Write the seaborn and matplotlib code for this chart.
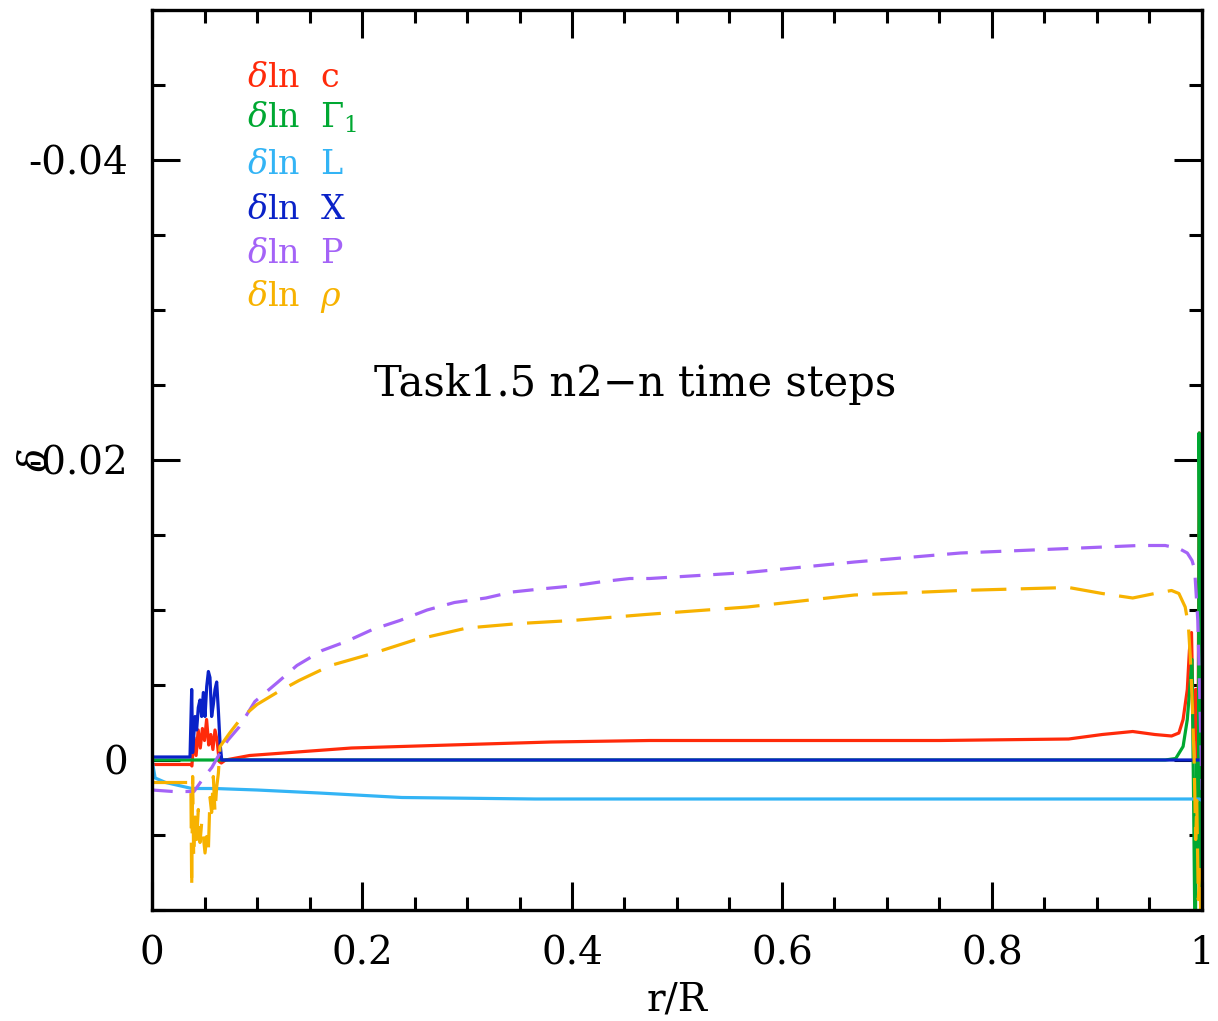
import matplotlib
matplotlib.use("Agg")
import matplotlib.pyplot as plt
from matplotlib.ticker import MultipleLocator
import seaborn as sns
import pandas as pd

# ---------------- data ----------------
x_c = [0, 0.037, 0.038, 0.040, 0.042, 0.044, 0.046, 0.048, 0.050, 0.052, 0.054, 0.056,
       0.058, 0.060, 0.062, 0.064, 0.066, 0.07, 0.093, 0.19, 0.284, 0.38, 0.474, 0.6,
       0.75, 0.873, 0.905, 0.934, 0.955, 0.971, 0.978, 0.982, 0.986, 0.988, 0.990,
       0.992, 0.994, 0.996, 0.9975, 0.999, 1.0]
y_c = [0.0003, 0.0003, 0.0004, -0.0015, -0.0003, -0.0020, -0.0008, -0.0021, -0.0013,
       -0.0027, -0.0010, -0.0017, -0.0007, -0.0020, -0.0013, 0.0001, 0.0002, 0.0000,
       -0.0003, -0.0008, -0.0010, -0.0012, -0.0013, -0.0013, -0.0013, -0.0014, -0.0017,
       -0.0019, -0.0017, -0.0016, -0.0018, -0.0027, -0.0047, -0.0073, -0.0085, -0.0013,
       -0.0047, 0.0027, -0.0218, 0.0000, -0.0007]

x_g = [0, 0.965, 0.975, 0.982, 0.986, 0.9905, 0.992, 0.9935, 0.995, 0.9965, 0.9972,
       0.9985, 0.9993, 1.0]
y_g = [0, 0, -0.0001, -0.0009, -0.0027, -0.0067, 0.0027, 0.0133, 0.0, 0.0080, -0.0218,
       -0.0080, 0.0093, 0.0013]

x_L = [0, 0.003, 0.013, 0.038, 0.06, 0.1, 0.159, 0.238, 0.365, 0.5, 0.7, 0.9, 0.99,
       0.9975, 1.0]
y_L = [0, 0.0012, 0.0015, 0.0019, 0.0019, 0.0020, 0.0022, 0.0025, 0.0026, 0.0026,
       0.0026, 0.0026, 0.0026, 0.0026, 0.0027]

x_X = [0, 0.0362, 0.0378, 0.0387, 0.041, 0.0425, 0.0441, 0.0457, 0.0473, 0.0489, 0.0505,
       0.0521, 0.0537, 0.0552, 0.0568, 0.0584, 0.06, 0.0616, 0.0632, 0.0648, 0.0664, 1.0]
y_X = [-0.0002, -0.0002, -0.0047, -0.0005, -0.0029, -0.0020, -0.0035, -0.0040, -0.0029,
       -0.0045, -0.0029, -0.0049, -0.0059, -0.0055, -0.0029, -0.0037, -0.0047, -0.0052,
       -0.0033, -0.0011, 0, 0]

x_P = [0, 0.02, 0.04, 0.05, 0.057, 0.065, 0.072, 0.083, 0.098, 0.12, 0.138, 0.162, 0.185,
       0.21, 0.236, 0.262, 0.288, 0.318, 0.343, 0.37, 0.40, 0.43, 0.455, 0.474, 0.567,
       0.669, 0.77, 0.873, 0.94, 0.965, 0.978, 0.986, 0.9905, 0.993, 0.996, 0.998, 1.0]
y_P = [0.0020, 0.0021, 0.0021, 0.0011, 0.0005, -0.0005, -0.0013, -0.0022, -0.0039,
       -0.0052, -0.0063, -0.0073, -0.0079, -0.0087, -0.0093, -0.0100, -0.0105, -0.0108,
       -0.0112, -0.0114, -0.0116, -0.0119, -0.0121, -0.0121, -0.0125, -0.0132, -0.0138,
       -0.0141, -0.0143, -0.0143, -0.0141, -0.0138, -0.0133, -0.0127, -0.0093, -0.0040,
       0.0020]

x_rho = [0, 0.037, 0.0378, 0.0387, 0.0397, 0.041, 0.0425, 0.0441, 0.0457, 0.0473, 0.0489,
         0.0505, 0.0521, 0.0537, 0.0552, 0.0568, 0.0584, 0.06, 0.0616, 0.0632, 0.0648,
         0.074, 0.085, 0.1, 0.119, 0.14, 0.17, 0.21, 0.25, 0.3, 0.35, 0.4, 0.47, 0.567,
         0.669, 0.77, 0.873, 0.905, 0.934, 0.955, 0.971, 0.978, 0.984, 0.987, 0.989,
         0.991, 0.9925, 0.994, 0.995, 0.9965, 0.998, 0.999, 1.0]
y_rho = [0.0015, 0.0015, 0.0085, 0.0011, 0.0065, 0.0038, 0.0053, 0.0033, 0.0055, 0.0042,
         0.0051, 0.0062, 0.0051, 0.0060, 0.0025, 0.0035, 0.0011, 0.0035, 0.0018, 0.0009,
         -0.0009, -0.0018, -0.0028, -0.0037, -0.0045, -0.0053, -0.0063, -0.0071, -0.0080,
         -0.0088, -0.0091, -0.0093, -0.0097, -0.0102, -0.0110, -0.0113, -0.0115, -0.0111,
         -0.0108, -0.0111, -0.0113, -0.0111, -0.0102, -0.0090, -0.0067, -0.0033, 0.0,
         0.0053, 0.0027, 0.0093, 0.0073, 0.0113, 0.0093]

labels = [r"$\delta$ln  c", r"$\delta$ln  $\Gamma_1$", r"$\delta$ln  L",
          r"$\delta$ln  X", r"$\delta$ln  P", r"$\delta$ln  $\rho$"]
colors = ["#FF2A0A", "#00A832", "#33B4F5", "#0A22C8", "#A463F7", "#F7B200"]
x_ticks = [0, 0.2, 0.4, 0.6, 0.8, 1.0]
x_ticklabels = ["0", "0.2", "0.4", "0.6", "0.8", "1"]
y_ticks = [-0.04, -0.02, 0.0]
y_ticklabels = ["-0.04", "-0.02", "0"]
title_text = "Task1.5 n2\u2212n time steps"

# ---------------- style ----------------
sns.set_style("ticks")
plt.rcParams["font.family"] = ["DejaVu Serif", "DejaVu Sans"]
plt.rcParams["mathtext.fontset"] = "dejavuserif"
for k in ["text.color", "axes.labelcolor", "xtick.color", "ytick.color",
          "axes.edgecolor"]:
    plt.rcParams[k] = "black"

W, H = 1218, 1021
fig = plt.figure(figsize=(W / 100, H / 100), dpi=100)
ax = fig.add_axes([152 / W, 1 - 910 / H, 1050 / W, 900 / H])

series = [(x_c, y_c, "-"), (x_g, y_g, "-"), (x_L, y_L, "-"),
          (x_X, y_X, "-"), (x_P, y_P, (0, (6.5, 4.0))), (x_rho, y_rho, (0, (11, 4.5)))]
for (xs, ys, ls), col in zip(series, colors):
    df = pd.DataFrame({"x": xs, "y": ys})
    sns.lineplot(data=df, x="x", y="y", ax=ax, color=col, linewidth=2.3,
                 linestyle=ls, estimator=None, sort=False)

ax.set_xlim(0, 1)
ax.set_ylim(0.01, -0.05)
ax.set_xlabel("")
ax.set_ylabel("")
ax.set_xticks(x_ticks)
ax.set_xticklabels(x_ticklabels)
ax.set_yticks(y_ticks)
ax.set_yticklabels(y_ticklabels)
ax.xaxis.set_minor_locator(MultipleLocator(0.05))
ax.yaxis.set_minor_locator(MultipleLocator(0.005))
ax.tick_params(which="both", direction="in", top=True, right=True, width=2.2,
               color="black")
ax.tick_params(which="major", length=20, labelsize=28)
ax.tick_params(which="minor", length=9.5)
ax.tick_params(axis="x", which="major", pad=18)
ax.tick_params(axis="y", which="major", pad=17)
for s in ax.spines.values():
    s.set_linewidth(2.4)
    s.set_visible(True)
    s.set_color("black")

# legend as coloured text
baselines = [87, 128, 174, 219, 263, 306]
for lab, col, b in zip(labels, colors, baselines):
    fig.text(247 / W, 1 - b / H, lab, color=col, fontsize=24,
             ha="left", va="baseline")

fig.text(635 / W, 1 - 396 / H, title_text, fontsize=30, ha="center", va="baseline")
fig.text(677 / W, 1 - 1000 / H, "r/R", fontsize=28, ha="center", va="center")
fig.text(36 / W, 1 - 460 / H, r"$\delta$", fontsize=28, ha="center", va="center",
         rotation=90)

fig.savefig("out.png", dpi=100)
